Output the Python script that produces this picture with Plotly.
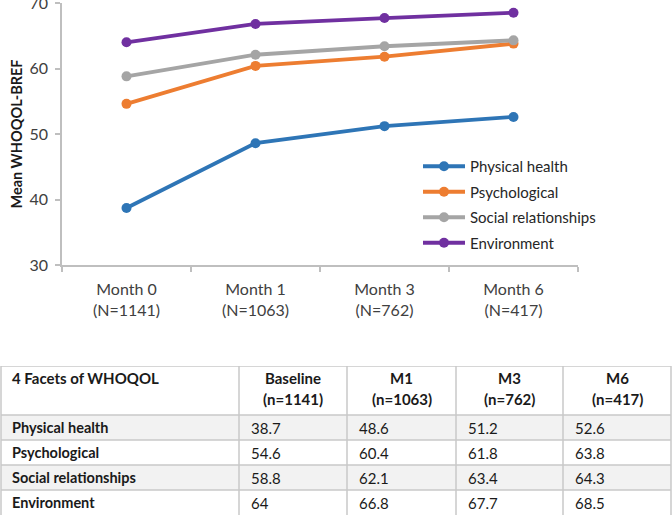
import plotly.graph_objects as go

categories = ["Month 0<br>(N=1141)", "Month 1<br>(N=1063)", "Month 3<br>(N=762)", "Month 6<br>(N=417)"]
facets = ["Physical health", "Psychological", "Social relationships", "Environment"]
physical = [38.7, 48.6, 51.2, 52.6]
psychological = [54.6, 60.4, 61.8, 63.8]
social = [58.8, 62.1, 63.4, 64.3]
environment = [64, 66.8, 67.7, 68.5]
colors = ["#2E75B6", "#ED7D31", "#A5A5A5", "#7030A0"]
y_ticks = [30, 40, 50, 60, 70]

table_header_title = "4 Facets of WHOQOL"
table_cols = ["Baseline", "M1", "M3", "M6"]
table_ns = ["(n=1141)", "(n=1063)", "(n=762)", "(n=417)"]

FONT = "Lato"
W, H = 672, 515
TOP = 3
PH = H - TOP  # paper height in px

fig = go.Figure()
series = [physical, psychological, social, environment]
for i, (name, vals) in enumerate(zip(facets, series)):
    fig.add_trace(go.Scatter(
        x=categories, y=vals, name=name, mode="lines+markers",
        line=dict(color=colors[i], width=3.8),
        marker=dict(color=colors[i], size=10),
        legendgroup=name,
        xaxis="x", yaxis="y",
    ))

def py(y):
    return (H - y) / PH  # pixel row -> paper fraction (b=0)

# ---------- table on its own axes (pixel-like units) ----------
col_edges = [1, 239, 347, 456, 563, 671]
row_edges = [0, 49, 74, 99, 124, 149]
TABLE_TOP = 366
table_h = H - TABLE_TOP
TXT = "#1a1a1a"
LINE = "#C8C8C8"

shapes = []
for r in range(4):
    if r % 2 == 0:
        shapes.append(dict(type="rect", xref="x2", yref="y2",
                           x0=col_edges[0], x1=col_edges[-1],
                           y0=row_edges[r + 1], y1=row_edges[r + 2],
                           fillcolor="#F2F2F2", line=dict(width=0), layer="below"))
for ye in row_edges[:-1]:
    shapes.append(dict(type="line", xref="x2", yref="y2",
                       x0=col_edges[0], x1=col_edges[-1], y0=ye, y1=ye,
                       line=dict(color=LINE, width=1.5)))
for xe in col_edges:
    shapes.append(dict(type="line", xref="x2", yref="y2",
                       x0=xe, x1=xe, y0=row_edges[0], y1=row_edges[-1],
                       line=dict(color=LINE, width=1.5)))

annotations = []
def cell_text(text, x, y, xanchor="left", bold=False, size=15):
    annotations.append(dict(
        text=("<b>" + text + "</b>") if bold else text,
        x=x, y=y, xref="x2", yref="y2", xanchor=xanchor, yanchor="middle",
        showarrow=False, font=dict(family=FONT, size=size, color=TXT)))

cell_text(table_header_title, col_edges[0] + 9, 12, bold=True)
for j in range(4):
    cx = (col_edges[j + 1] + col_edges[j + 2]) / 2
    cell_text(table_cols[j], cx, 12, xanchor="center", bold=True)
    cell_text(table_ns[j], cx, 33, xanchor="center", bold=True)
for r, (name, vals) in enumerate(zip(facets, series)):
    yc = row_edges[r + 1] + 12.5
    cell_text(name, col_edges[0] + 9, yc, bold=True, size=14.5)
    for j, v in enumerate(vals):
        cell_text(f"{v:g}", col_edges[j + 1] + 10, yc)

fig.update_layout(
    width=W, height=H,
    margin=dict(l=0, r=0, t=TOP, b=0),
    paper_bgcolor="white", plot_bgcolor="white",
    font=dict(family=FONT, size=14, color="#404040"),
    showlegend=True,
    xaxis=dict(
        domain=[62 / W, 578 / W],
        type="category",
        range=[-0.5, 3.5],
        showline=True, linecolor="#BFBFBF", linewidth=1.5,
        ticks="outside", ticklen=5, tickcolor="#BFBFBF", tickwidth=1.5,
        tickson="boundaries",
        showgrid=False, zeroline=False,
        tickfont=dict(family=FONT, size=16, color="#404040"),
        ticklabelstandoff=9,
        automargin=False,
        anchor="y",
    ),
    yaxis=dict(
        domain=[py(265), 1.0],
        range=[30, 70],
        tickvals=y_ticks,
        showline=True, linecolor="#BFBFBF", linewidth=1.5,
        ticks="outside", ticklen=5, tickcolor="#BFBFBF", tickwidth=1.5,
        showgrid=False, zeroline=False,
        tickfont=dict(family=FONT, size=16, color="#404040"),
        ticklabelstandoff=4,
        ticklabeloverflow="allow",
        automargin=False,
        title=dict(text="<b>Mean WHOQOL-BREF</b>", font=dict(family=FONT, size=14.5, color="#1a1a1a"), standoff=3),
        anchor="x",
    ),
    xaxis2=dict(domain=[0, 1], range=[0, W], visible=False, fixedrange=True, anchor="y2"),
    yaxis2=dict(domain=[0, table_h / PH], range=[table_h, 0], visible=False, fixedrange=True, anchor="x2"),
    legend=dict(
        x=418 / W, y=py(150), xanchor="left", yanchor="top",
        font=dict(family=FONT, size=15, color="#262626"),
        tracegroupgap=3,
        itemwidth=42,
        traceorder="grouped",
        bgcolor="rgba(0,0,0,0)",
    ),
    shapes=shapes,
    annotations=annotations,
)

fig.write_html("out.html", config={"displayModeBar": False},
               post_script="document.body.style.margin='0';document.body.style.overflow='hidden';")
